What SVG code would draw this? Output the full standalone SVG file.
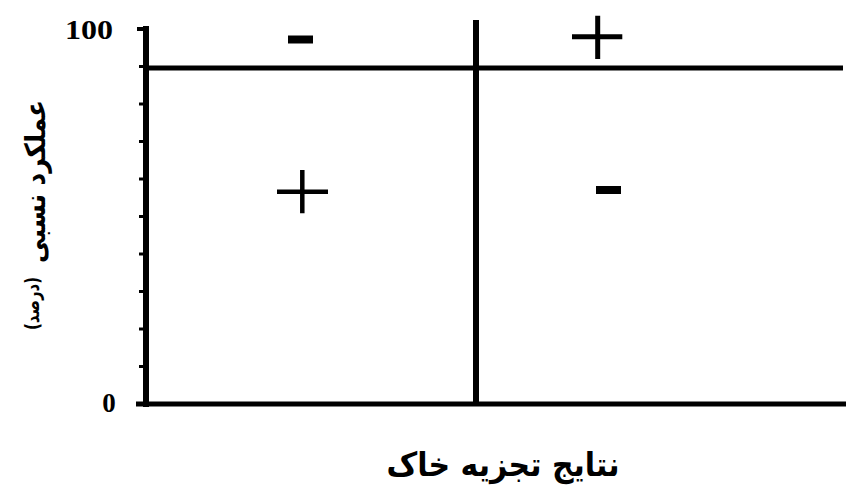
<svg xmlns="http://www.w3.org/2000/svg" width="846" height="488" viewBox="0 0 846 488">
<style>
.ax{stroke:#000;fill:none;stroke-linecap:butt}
.tick{stroke:#000;stroke-width:3}
.num{font-family:"Liberation Serif",serif;font-weight:bold;fill:#000}
.fa{font-family:"DejaVu Sans",sans-serif;font-weight:bold;fill:#000}
.sign{stroke:#000;fill:none}
</style>
<rect width="846" height="488" fill="#fff"/>
<g id="axes">
<line class="ax" x1="146" y1="26" x2="146" y2="407" stroke-width="6"/>
<line class="ax" x1="136" y1="404" x2="846" y2="404" stroke-width="5"/>
<line class="ax" x1="137" y1="29" x2="146" y2="29" stroke-width="4"/>
<line class="ax" x1="146" y1="68" x2="843" y2="68" stroke-width="5"/>
<line class="ax" x1="476" y1="20" x2="476" y2="404" stroke-width="6"/>
</g>
<g id="ticks">
<line class="tick" x1="139" y1="66.5" x2="146" y2="66.5"/>
<line class="tick" x1="139" y1="104" x2="146" y2="104"/>
<line class="tick" x1="139" y1="141.5" x2="146" y2="141.5"/>
<line class="tick" x1="139" y1="179" x2="146" y2="179"/>
<line class="tick" x1="139" y1="216.5" x2="146" y2="216.5"/>
<line class="tick" x1="139" y1="254" x2="146" y2="254"/>
<line class="tick" x1="139" y1="291.5" x2="146" y2="291.5"/>
<line class="tick" x1="139" y1="329" x2="146" y2="329"/>
<line class="tick" x1="139" y1="366.5" x2="146" y2="366.5"/>
</g>
<g id="labels">
<text class="num" x="65" y="39" font-size="27" textLength="48" lengthAdjust="spacingAndGlyphs">100</text>
<text class="num" x="109" y="412" font-size="27" text-anchor="middle">0</text>
<text class="fa" x="503" y="476" font-size="33" text-anchor="middle" direction="rtl" textLength="233" lengthAdjust="spacingAndGlyphs">نتایج تجزیه خاک</text>
<text class="fa" transform="translate(45,181.5) rotate(-90)" font-size="28" text-anchor="middle" direction="rtl" textLength="163" lengthAdjust="spacingAndGlyphs">عملکرد نسبی</text>
<text class="fa" transform="translate(39,303.5) rotate(-90)" font-size="19" font-weight="normal" text-anchor="middle" direction="rtl" textLength="53" lengthAdjust="spacingAndGlyphs">(درصد)</text>
</g>
<g id="q-top-left"><line class="sign" x1="288" y1="39.5" x2="313" y2="39.5" stroke-width="8"/></g>
<g id="q-top-right"><path class="sign" d="M572 36.7H622.3M597.7 15.7V59" stroke-width="5"/></g>
<g id="q-bottom-left"><path class="sign" d="M277 191.7H328M302.3 170V213.3" stroke-width="4.5"/></g>
<g id="q-bottom-right"><line class="sign" x1="596" y1="190" x2="621" y2="190" stroke-width="8"/></g>
</svg>
